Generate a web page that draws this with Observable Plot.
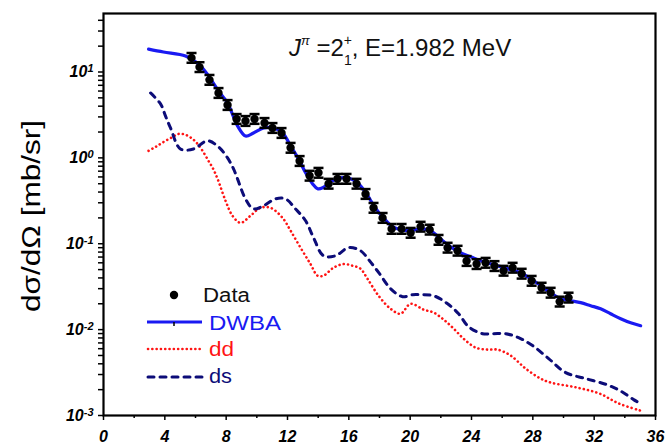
<!DOCTYPE html>
<html><head><meta charset="utf-8">
<script src="https://cdn.jsdelivr.net/npm/d3@7"></script>
<script src="https://cdn.jsdelivr.net/npm/@observablehq/plot@0.6"></script>
<style>
body{margin:0;background:#fff;}
svg{font-family:"Liberation Sans",Arial,sans-serif;}
</style></head><body><div id="chart"></div>
<script>
// Experimental data (angle in degrees, cross section in mb/sr)
const dataAngle = [5.74,6.26,6.91,7.5,8.09,8.68,9.26,9.85,10.5,11.02,11.61,12.2,12.79,13.44,14.02,14.68,15.26,15.85,16.5,17.09,17.61,18.2,18.79,19.44,20.03,20.68,21.27,21.85,22.44,23.09,23.68,24.33,24.92,25.5,26.09,26.68,27.27,27.92,28.57,29.16,29.75,30.33];
const dataValue = [14.6,11.4,8.1,5.7,4.13,2.84,2.69,2.84,2.55,2.23,1.95,1.31,0.92,0.62,0.67,0.50,0.57,0.57,0.50,0.38,0.262,0.20,0.149,0.149,0.134,0.158,0.146,0.111,0.090,0.083,0.063,0.058,0.060,0.055,0.0485,0.0526,0.0448,0.037,0.0308,0.0269,0.0212,0.0236];
const dataRelErr = 0.14;

// DWBA curve
const dwbaAngle = [2.94,3.91,5.35,6.2,6.85,7.5,8.09,8.74,9.26,9.78,10.44,11.09,11.68,12.2,12.72,13.18,13.63,13.96,14.29,14.81,15.46,16.11,16.63,17.16,17.68,18.26,18.85,19.37,20.03,20.68,21.33,21.98,22.64,23.29,23.94,24.59,25.24,25.9,26.55,27.2,27.85,28.51,29.16,29.81,30.46,31.12,31.77,32.42,33.07,33.73,34.38,35.03];
const dwbaValue = [18.5,17.1,15.4,12.4,9.0,6.0,4.36,2.36,1.80,1.95,2.23,2.23,1.95,1.38,0.97,0.67,0.50,0.437,0.448,0.526,0.585,0.57,0.50,0.38,0.269,0.20,0.158,0.146,0.142,0.149,0.142,0.114,0.092,0.0785,0.0706,0.0634,0.0585,0.0541,0.0499,0.046,0.0392,0.0325,0.0269,0.0229,0.0217,0.0206,0.019,0.0175,0.0153,0.0134,0.0120,0.0111];

// dd curve
const ddAngle = [2.94,3.39,3.91,4.5,4.89,5.35,5.81,6.13,6.46,6.85,7.11,7.44,7.96,8.41,8.94,9.59,10.24,10.89,11.68,12.2,12.85,13.5,13.96,14.35,15.0,15.66,16.24,16.76,17.22,17.94,18.72,19.37,20.03,20.87,21.53,22.18,22.83,23.48,24.27,25.05,25.7,26.55,27.53,28.51,29.16,30.85,32.35,33.6,35.03];
const ddValue = [1.21,1.34,1.53,1.75,1.90,1.86,1.66,1.46,1.21,0.92,0.77,0.57,0.316,0.212,0.175,0.212,0.262,0.262,0.20,0.142,0.090,0.058,0.0425,0.0425,0.0526,0.058,0.0555,0.0512,0.039,0.0248,0.0175,0.0153,0.020,0.0171,0.0158,0.0131,0.0103,0.00785,0.00618,0.00585,0.00585,0.00499,0.00352,0.00269,0.00242,0.00212,0.0018,0.00138,0.00114];

// ds curve
const dsAngle = [3.07,3.72,4.04,4.37,5.02,5.87,6.78,7.5,8.09,8.48,8.74,9.26,9.78,10.44,11.22,11.87,12.52,13.18,13.7,14.35,15.13,15.98,16.76,17.35,18.0,18.72,19.5,20.16,20.68,21.53,22.44,23.16,23.81,24.72,25.44,26.22,27.07,27.98,29.03,30.14,31.44,32.81,33.79,34.57,35.03];
const dsValue = [5.7,4.25,3.08,2.23,1.27,1.27,1.58,1.34,1.0,0.745,0.57,0.333,0.255,0.277,0.333,0.333,0.255,0.185,0.1175,0.0724,0.0724,0.090,0.083,0.0634,0.0448,0.030,0.0242,0.0255,0.0255,0.0248,0.020,0.0153,0.0108,0.00897,0.00897,0.00897,0.00807,0.00652,0.0046,0.00316,0.00269,0.00229,0.0019,0.00153,0.00138];

const xMajorTicks = [0,4,8,12,16,20,24,28,32,36];
const xMinorTicks = [2,6,10,14,18,22,26,30,34];

const titleText = {J:"J", pi:"π", eq:" =2", sup:"+", sub:"1", rest:", E=1.982 MeV"};
const yLabel = "dσ/dΩ [mb/sr]";
const legendLabels = ["Data","DWBA","dd","ds"];

const colors = {dwba:"#1a1af2", dd:"#ff1414", ds:"#0c0c78"};

const data = dataAngle.map((a,i)=>({angle:a, value:dataValue[i], lo:dataValue[i]/(1+dataRelErr), hi:dataValue[i]*(1+dataRelErr)}));
const dwba = dwbaAngle.map((a,i)=>({angle:a, value:dwbaValue[i]}));
const dd = ddAngle.map((a,i)=>({angle:a, value:ddValue[i]}));
const ds = dsAngle.map((a,i)=>({angle:a, value:dsValue[i]}));

const capSymbol = {draw(ctx){ ctx.moveTo(-5,0); ctx.lineTo(5,0); }};

const font = "Liberation Sans, Arial, sans-serif";
const chart = Plot.plot({
  width:669, height:444,
  marginLeft:103, marginRight:14, marginTop:13, marginBottom:29,
  style:{fontFamily:font, background:"#fff"},
  x:{domain:[0,36]},
  y:{type:"log", domain:[0.001,48]},
  marks:[
    Plot.axisX({ticks:xMajorTicks, tickSize:5, tickPadding:10, tickFormat:d=>String(d), fontSize:16, fontWeight:"bold", fontStyle:"italic", strokeWidth:1.5, label:null}),
    Plot.axisX({ticks:xMinorTicks, tickSize:3, text:null, strokeWidth:1.5, label:null}),
    Plot.axisY({ticks:60, tickSize:5, tickPadding:5, strokeWidth:1.5, fontSize:16, fontWeight:"bold", fontStyle:"italic", label:null,
      tickFormat:d=>{const e=Math.round(Math.log10(d)); return Math.abs(Math.log10(d)-e)<1e-9 ? "10^"+e : "";}}),
    Plot.line(dd, {x:"angle", y:"value", stroke:colors.dd, strokeWidth:2.6, strokeDasharray:"0.1 4.2", strokeLinecap:"round", curve:"catmull-rom"}),
    Plot.line(ds, {x:"angle", y:"value", stroke:colors.ds, strokeWidth:3, strokeDasharray:"6 6", strokeLinecap:"round", curve:"catmull-rom"}),
    Plot.line(dwba, {x:"angle", y:"value", stroke:colors.dwba, strokeWidth:3.2, curve:"catmull-rom"}),
    Plot.ruleX(data, {x:"angle", y1:"lo", y2:"hi", stroke:"black", strokeWidth:2}),
    Plot.dot(data, {x:"angle", y:"lo", symbol:capSymbol, stroke:"black", strokeWidth:2.5, fill:"none"}),
    Plot.dot(data, {x:"angle", y:"hi", symbol:capSymbol, stroke:"black", strokeWidth:2.5, fill:"none"}),
    Plot.dot(data, {x:"angle", y:"value", r:4.2, fill:"black"}),
    Plot.frame({stroke:"black", strokeWidth:2.2})
  ]
});
document.getElementById("chart").appendChild(chart);

const svg = d3.select(chart);
// superscript exponents on y tick labels
svg.selectAll("text").each(function(){
  const t = d3.select(this);
  const s = this.textContent;
  if (s.startsWith("10^")) {
    const exp = s.slice(3).replace("−","-");
    t.text(null);
    t.append("tspan").text("10");
    t.append("tspan").attr("dy","-0.45em").attr("font-size","11px").text(exp);
  }
});

// y label
svg.append("text")
  .attr("transform","translate(40,216) rotate(-90)")
  .attr("text-anchor","middle").attr("font-family",font).attr("font-size",26)
  .attr("textLength",192).attr("lengthAdjust","spacingAndGlyphs")
  .attr("fill","black").text(yLabel);

// title
const tt = svg.append("text").attr("x",289).attr("y",56).attr("text-anchor","start").attr("font-family",font).attr("font-size",24).attr("fill","#111");
tt.append("tspan").attr("font-style","italic").text(titleText.J);
tt.append("tspan").attr("font-style","italic").attr("font-size",13).attr("dy",-11).text(titleText.pi);
tt.append("tspan").attr("dy",11).text(titleText.eq);
tt.append("tspan").attr("font-size",14).attr("dy",-11).text(titleText.sup);
tt.append("tspan").attr("font-size",14).attr("dx",-8).attr("dy",20).text(titleText.sub);
tt.append("tspan").attr("dy",-9).text(titleText.rest);

// legend
const lg = svg.append("g").attr("font-family",font).attr("font-size",20).attr("text-anchor","start");
lg.append("circle").attr("cx",174).attr("cy",295).attr("r",4.2).attr("fill","black");
lg.append("text").attr("x",203).attr("y",302).attr("textLength",47).attr("lengthAdjust","spacingAndGlyphs").attr("fill","#111").text(legendLabels[0]);
lg.append("line").attr("x1",147).attr("x2",202).attr("y1",322).attr("y2",322).attr("stroke",colors.dwba).attr("stroke-width",3.2);
lg.append("line").attr("x1",174).attr("x2",174).attr("y1",322).attr("y2",326).attr("stroke","black").attr("stroke-width",1.5);
lg.append("text").attr("x",209).attr("y",330).attr("textLength",72).attr("lengthAdjust","spacingAndGlyphs").attr("fill",colors.dwba).text(legendLabels[1]);
lg.append("line").attr("x1",148).attr("x2",202).attr("y1",349).attr("y2",349).attr("stroke",colors.dd).attr("stroke-width",2.6).attr("stroke-dasharray","0.1 4.2").attr("stroke-linecap","round");
lg.append("text").attr("x",209).attr("y",356).attr("textLength",25).attr("lengthAdjust","spacingAndGlyphs").attr("fill",colors.dd).text(legendLabels[2]);
lg.append("line").attr("x1",148).attr("x2",202).attr("y1",377).attr("y2",377).attr("stroke",colors.ds).attr("stroke-width",3).attr("stroke-dasharray","6 6").attr("stroke-linecap","round");
lg.append("text").attr("x",209).attr("y",383).attr("textLength",23).attr("lengthAdjust","spacingAndGlyphs").attr("fill",colors.ds).text(legendLabels[3]);
</script></body></html>
